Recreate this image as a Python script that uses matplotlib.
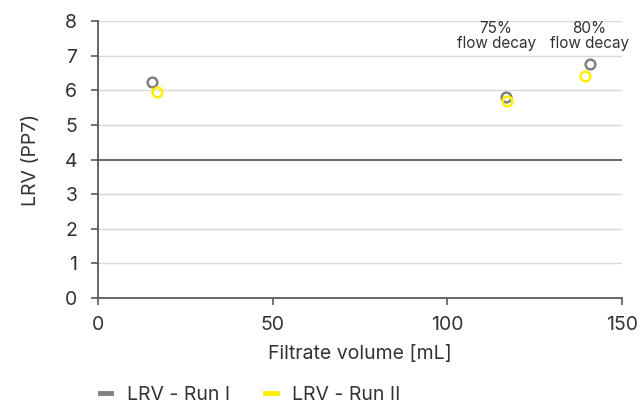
import matplotlib.pyplot as plt
from matplotlib.lines import Line2D

plt.rcParams['font.family'] = ['Inter', 'DejaVu Sans']

run1_x = [15.5, 116.8, 140.9]
run1_y = [6.23, 5.81, 6.76]
run2_x = [16.9, 117.1, 139.4]
run2_y = [5.95, 5.69, 6.42]
notes = ["", "75%\nflow decay", "80%\nflow decay"]
note_x = [0, 114.0, 140.7]

gray = "#808080"
yellow = "#ffee00"
text_c = "#333333"

fig = plt.figure(figsize=(6.41, 4.07), dpi=100)
ax = fig.add_axes([0.153, 0.268, 0.817, 0.680])

for y in range(0, 9):
    if y == 4:
        ax.axhline(y, color="#6e6e6e", lw=1.5, zorder=1)
    elif y > 0:
        ax.axhline(y, color="#d9d9d9", lw=1.0, zorder=1)

ax.plot(run1_x, run1_y, "o", mfc="none", mec=gray, mew=1.8, ms=7, zorder=3)
ax.plot(run2_x, run2_y, "o", mfc="none", mec=yellow, mew=1.8, ms=7, zorder=3)

for x, t in zip(note_x, notes):
    if t:
        ax.text(x, 7.15, t, ha="center", va="bottom", fontsize=11,
                color=text_c, linespacing=0.95)

ax.set_xlim(0, 150)
ax.set_ylim(0, 8)
ax.set_xticks([0, 50, 100, 150])
ax.set_yticks(range(0, 9))
for s in ["top", "right"]:
    ax.spines[s].set_visible(False)
for s in ["left", "bottom"]:
    ax.spines[s].set_color("#595959")
    ax.spines[s].set_linewidth(1.3)
ax.tick_params(colors="#595959", labelcolor=text_c, labelsize=14, length=5, width=1.2)
ax.tick_params(axis="x", pad=8)
ax.tick_params(axis="y", pad=10)
ax.set_xlabel("Filtrate volume [mL]", fontsize=14, color=text_c, labelpad=8)
ax.set_ylabel("LRV (PP7)", fontsize=14, color=text_c, labelpad=18)

handles = [Line2D([], [], color=gray, lw=3.5), Line2D([], [], color=yellow, lw=3.5)]
fig.legend(handles, ["LRV - Run I", "LRV - Run II"], loc="lower left",
           bbox_to_anchor=(0.128, -0.035), ncol=2, frameon=False, fontsize=14,
           handlelength=0.6, handletextpad=0.8, columnspacing=1.8, labelcolor=text_c)

fig.savefig("out.png", dpi=100)
